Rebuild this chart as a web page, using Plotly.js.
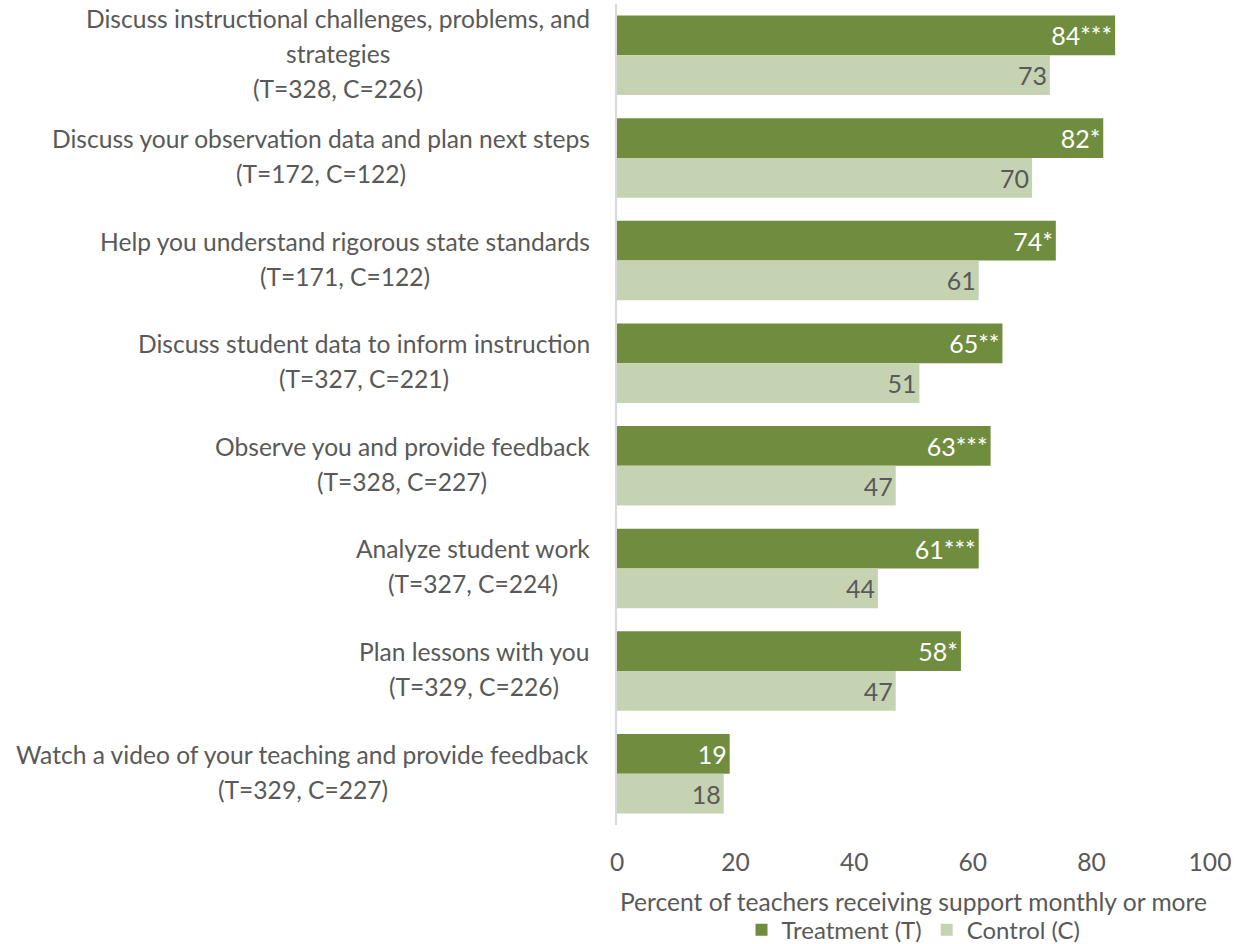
<!DOCTYPE html>
<html>
<head>
<meta charset="utf-8">
<script src="https://cdn.plot.ly/plotly-3.0.1.min.js"></script>
<style>html,body{margin:0;padding:0;background:#fff;}#chart{width:1237px;height:944px;}</style>
</head>
<body>
<div id="chart"></div>
<script>
const categories = [
  "Discuss instructional challenges, problems, and strategies",
  "Discuss your observation data and plan next steps",
  "Help you understand rigorous state standards",
  "Discuss student data to inform instruction",
  "Observe you and provide feedback",
  "Analyze student work",
  "Plan lessons with you",
  "Watch a video of your teaching and provide feedback"
];
const labelLines = [
  ["Discuss instructional challenges, problems, and", "strategies", "(T=328, C=226)"],
  ["Discuss your observation data and plan next steps", "(T=172, C=122)"],
  ["Help you understand rigorous state standards", "(T=171, C=122)"],
  ["Discuss student data to inform instruction", "(T=327, C=221)"],
  ["Observe you and provide feedback", "(T=328, C=227)"],
  ["Analyze student work", "(T=327, C=224)"],
  ["Plan lessons with you", "(T=329, C=226)"],
  ["Watch a video of your teaching and provide feedback", "(T=329, C=227)"]
];
const treatment = [84, 82, 74, 65, 63, 61, 58, 19];
const control = [73, 70, 61, 51, 47, 44, 47, 18];
const treatmentSig = ["***", "*", "*", "**", "***", "***", "*", ""];
const xTicks = [0, 20, 40, 60, 80, 100];

const FONT = "Lato, 'Open Sans', sans-serif";
const FS = 24.6;
const GRAY = "#595959";
const GREEN = "#708C3E";
const LIGHT = "#C6D3B2";

const traces = [
  {
    type: "bar", orientation: "h", name: "Treatment (T)",
    y: categories, x: treatment,
    text: treatment.map((v, i) => v + treatmentSig[i]),
    textposition: "inside", insidetextanchor: "end",
    textfont: {family: FONT, size: 25, color: "#ffffff"},
    marker: {color: GREEN},
    cliponaxis: false, hoverinfo: "none"
  },
  {
    type: "bar", orientation: "h", name: "Control (C)",
    y: categories, x: control,
    text: control.map(v => String(v)),
    textposition: "inside", insidetextanchor: "end",
    textfont: {family: FONT, size: 25, color: GRAY},
    marker: {color: LIGHT},
    cliponaxis: false, hoverinfo: "none"
  }
];

const ctx = document.createElement("canvas").getContext("2d");
ctx.font = FS + "px Lato";
const LINE_H = 35;
const annotations = [];
labelLines.forEach((lines, i) => {
  const n = lines.length;
  const maxW = Math.max(...lines.map(l => ctx.measureText(l).width));
  lines.forEach((ln, j) => {
    annotations.push({
      xref: "paper", yref: "y", x: 0, y: categories[i],
      xanchor: "center", yanchor: "middle",
      xshift: -27 - maxW / 2, yshift: 2 - ((j - (n - 1) / 2) * LINE_H),
      text: ln, showarrow: false,
      font: {family: FONT, size: FS, color: GRAY}
    });
  });
});

const layout = {
  width: 1237, height: 944,
  margin: {l: 617, r: 27, t: 4, b: 119, pad: 0, autoexpand: false},
  paper_bgcolor: "#fff", plot_bgcolor: "#fff",
  barmode: "group", bargap: 0.225, bargroupgap: 0,
  showlegend: true,
  legend: {
    orientation: "h", x: 0.5, xanchor: "center",
    y: -0.128, yanchor: "middle",
    font: {family: FONT, size: 24, color: GRAY},
    itemwidth: 30, traceorder: "normal"
  },
  xaxis: {
    range: [0, 100], tickvals: xTicks, ticktext: xTicks.map(String),
    showgrid: false, zeroline: false, showline: false, ticks: "",
    tickfont: {family: FONT, size: FS, color: GRAY},
    ticklabelstandoff: 20,
    title: {text: "Percent of teachers receiving support monthly or more",
            font: {family: FONT, size: FS, color: GRAY}, standoff: 19}
  },
  yaxis: {
    type: "category", autorange: "reversed",
    showticklabels: false, showgrid: false, zeroline: false,
    showline: true, linecolor: "#D9D9D9", linewidth: 2, ticks: ""
  },
  annotations: annotations,
  font: {family: FONT, color: GRAY}
};

Plotly.newPlot("chart", traces, layout, {displayModeBar: false, staticPlot: true});
</script>
</body>
</html>
